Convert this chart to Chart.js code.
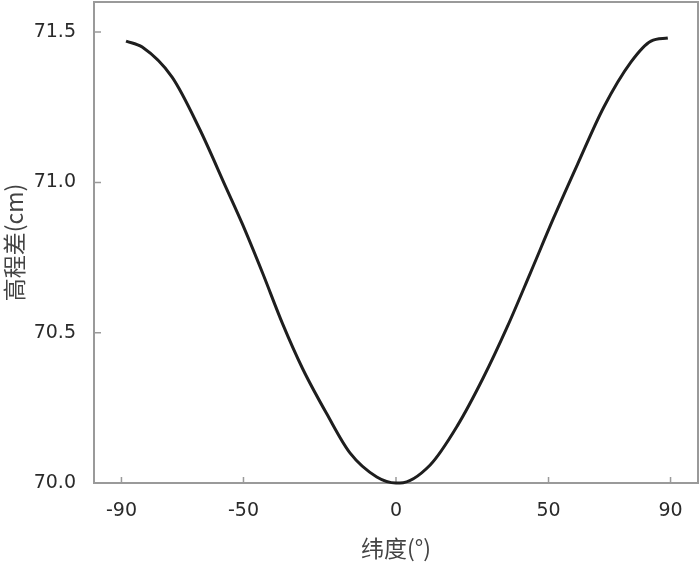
<!DOCTYPE html>
<html>
<head>
<meta charset="utf-8">
<script src="https://cdn.jsdelivr.net/npm/chart.js@4.4.1/dist/chart.umd.min.js"></script>
<style>
  html, body { margin: 0; padding: 0; background: #fff; }
  #wrap { width: 700px; height: 565px; }
</style>
</head>
<body>
<div id="wrap"><canvas id="chart" width="700" height="565"></canvas></div>
<script>
// Données : latitude (°) et différence de hauteur (cm)
const latitudes = [-88.5, -83.2, -73.4, -64.5, -55.6, -50.3, -43.8, -37.2, -30.6, -22.7, -15.1, -6.3, 0,
                   1.3, 11.2, 20.1, 28.6, 36.5, 44.1, 51.6, 59.5, 68.1, 77.0, 83.6, 89.1];
const heightDiff = [71.47, 71.45, 71.35, 71.18, 70.98, 70.86, 70.70, 70.53, 70.38, 70.23, 70.10, 70.02, 70.00,
                    70.00, 70.06, 70.19, 70.35, 70.52, 70.70, 70.88, 71.06, 71.25, 71.40, 71.47, 71.48];

const xTicks = [-90, -50, 0, 50, 90];
const yTicks = [70.0, 70.5, 71.0, 71.5];

const axisColor = '#9a9a9a';
const textColor = '#2a2a2a';

// Cadre gris + graduations tournées vers l'intérieur
const framePlugin = {
    id: 'frame',
    beforeDatasetsDraw(chart) {
        const { ctx, chartArea: a, scales } = chart;
        ctx.save();
        ctx.strokeStyle = axisColor;
        ctx.lineWidth = 2;
        ctx.strokeRect(a.left, a.top, a.right - a.left, a.bottom - a.top);
        ctx.lineWidth = 1.5;
        ctx.beginPath();
        xTicks.forEach(v => {
            const x = scales.x.getPixelForValue(v);
            ctx.moveTo(x, a.bottom);
            ctx.lineTo(x, a.bottom - 6);
        });
        yTicks.forEach(v => {
            const y = scales.y.getPixelForValue(v);
            ctx.moveTo(a.left, y);
            ctx.lineTo(a.left + 7, y);
        });
        ctx.stroke();
        ctx.restore();
    }
};

const points = latitudes.map((x, i) => ({ x: x, y: heightDiff[i] }));

new Chart(document.getElementById('chart'), {
    type: 'scatter',
    data: {
        datasets: [{
            data: points,
            showLine: true,
            borderColor: '#1e1e1e',
            borderWidth: 3,
            pointRadius: 0,
            cubicInterpolationMode: 'monotone',
            clip: 4
        }]
    },
    options: {
        responsive: false,
        animation: false,
        layout: { padding: { top: 2, right: 2, left: 0, bottom: 0 } },
        plugins: {
            legend: { display: false },
            tooltip: { enabled: false }
        },
        scales: {
            x: {
                type: 'linear',
                min: -99,
                max: 99,
                grid: { display: false },
                border: { display: false },
                afterBuildTicks: scale => { scale.ticks = xTicks.map(v => ({ value: v })); },
                afterFit: scale => {
                    scale.height = 82;
                    scale.paddingLeft = 0;
                    scale.paddingRight = 0;
                },
                ticks: {
                    color: textColor,
                    padding: 9,
                    font: { family: "'DejaVu Sans', sans-serif", size: 19 },
                    callback: v => String(v)
                },
                title: {
                    display: true,
                    text: '纬度(°)',
                    color: '#444',
                    padding: { top: 0, bottom: 3 },
                    font: { family: "'Noto Sans CJK SC', sans-serif", size: 23 }
                }
            },
            y: {
                type: 'linear',
                min: 70.0,
                max: 71.6,
                grid: { display: false },
                border: { display: false },
                afterBuildTicks: scale => { scale.ticks = yTicks.map(v => ({ value: v })); },
                afterFit: scale => {
                    scale.width = 94;
                    scale.paddingTop = 0;
                    scale.paddingBottom = 0;
                },
                ticks: {
                    color: textColor,
                    padding: 10,
                    font: { family: "'DejaVu Sans', sans-serif", size: 19 },
                    callback: v => v.toFixed(1)
                },
                title: {
                    display: true,
                    text: '高程差(cm)',
                    color: '#444',
                    padding: { top: 0, bottom: 0 },
                    font: { family: "'Noto Sans CJK SC', sans-serif", size: 23 }
                }
            }
        }
    },
    plugins: [framePlugin]
});
</script>
</body>
</html>
